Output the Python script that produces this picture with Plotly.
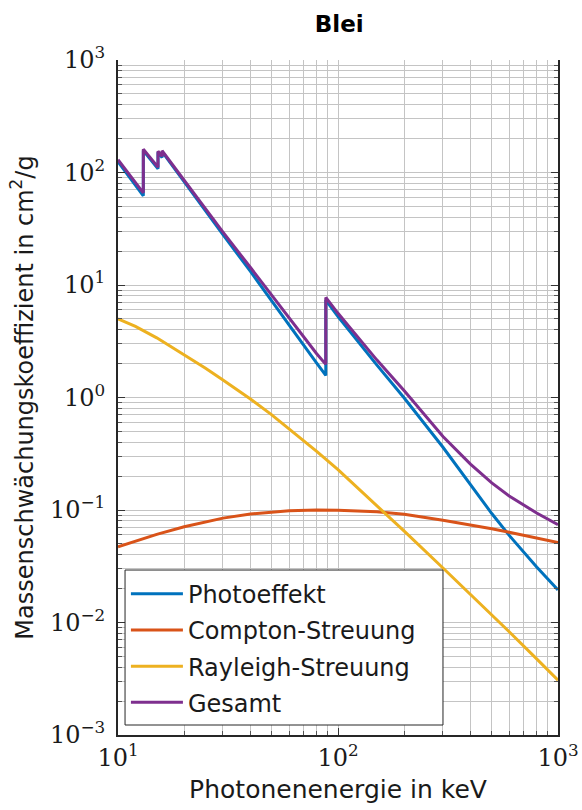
import plotly.graph_objects as go

# Energies in keV (edges duplicated for the absorption jumps)
E_photo = [10, 13.035, 13.035, 15.2, 15.2, 15.861, 15.861, 20, 30, 40, 50, 60, 80,
           88.0045, 88.0045, 100, 150, 200, 300, 400, 500, 600, 800, 1000]
mu_photo = [124.9, 62, 157, 108, 151, 136, 153, 82, 28, 13.2, 7.3, 4.4, 2.02,
            1.57, 7.35, 5.25, 1.95, 0.99, 0.361, 0.166, 0.093, 0.0595, 0.0311, 0.0195]
mu_total = [130, 66, 161, 111.5, 154.5, 139, 156, 84.5, 29.5, 14.3, 8.1, 5.05, 2.45,
            1.97, 7.75, 5.6, 2.16, 1.15, 0.45, 0.256, 0.174, 0.133, 0.094, 0.074]

E_scatter = [10, 12, 15, 20, 25, 30, 40, 50, 60, 80, 100, 150, 200, 300, 400, 500, 600, 800, 1000]
mu_compton = [0.047, 0.053, 0.0607, 0.071, 0.0788, 0.0847, 0.0921, 0.0963, 0.0985, 0.0999,
              0.0996, 0.0964, 0.0916, 0.0811, 0.0738, 0.0681, 0.0635, 0.0566, 0.0515]
mu_rayleigh = [5.0, 4.28, 3.39, 2.40, 1.82, 1.43, 0.968, 0.701, 0.528, 0.332, 0.228, 0.110,
               0.0648, 0.0305, 0.0178, 0.0117, 0.00827, 0.00475, 0.00307]

names = ["Photoeffekt", "Compton-Streuung", "Rayleigh-Streuung", "Gesamt"]
colors = ["#0072BD", "#D95319", "#EDB120", "#7E2F8E"]

y_tickvals = [1e-3, 1e-2, 1e-1, 1e0, 1e1, 1e2, 1e3]
y_ticktext = ["10<sup>−3</sup>", "10<sup>−2</sup>", "10<sup>−1</sup>", "10<sup>0</sup>",
              "10<sup>1</sup>", "10<sup>2</sup>", "10<sup>3</sup>"]
x_tickvals = [10, 100, 1000]
x_ticktext = ["10<sup>1</sup>", "10<sup>2</sup>", "10<sup>3</sup>"]

fig = go.Figure()
series = [(E_photo, mu_photo), (E_scatter, mu_compton), (E_scatter, mu_rayleigh), (E_photo, mu_total)]
for (xs, ys), n, c in zip(series, names, colors):
    fig.add_trace(go.Scatter(x=xs, y=ys, mode="lines", name=n, legendgroup=n,
                             line=dict(color=c, width=3)))

grid = "#c4c4c4"
tickfont = dict(family="DejaVu Serif", size=24, color="#1a1a1a")
fig.update_xaxes(type="log", range=[1, 3], tickvals=x_tickvals, ticktext=x_ticktext,
                 tickfont=tickfont, showgrid=True, gridcolor=grid, gridwidth=1,
                 ticks="inside", ticklen=7, tickcolor="#333", showline=True,
                 linecolor="#262626", linewidth=2, mirror=False, zeroline=False,
                 automargin=False,
                 minor=dict(dtick="D1", showgrid=True, gridcolor=grid, gridwidth=1,
                            ticks="inside", ticklen=4, tickcolor="#555"),
                 title=dict(text="Photonenenergie in keV",
                            font=dict(family="DejaVu Sans", size=25, color="#1a1a1a"),
                            standoff=10))
fig.update_yaxes(type="log", range=[-3, 3], tickvals=y_tickvals, ticktext=y_ticktext,
                 tickfont=tickfont, showgrid=True, gridcolor=grid, gridwidth=1,
                 ticks="inside", ticklen=7, tickcolor="#333", showline=True,
                 linecolor="#262626", linewidth=2, mirror="ticks", zeroline=False,
                 ticklabelstandoff=6, automargin=False,
                 minor=dict(dtick="D1", showgrid=True, gridcolor=grid, gridwidth=1,
                            ticks="inside", ticklen=4, tickcolor="#555"),
                 title=dict(text="Massenschwächungskoeffizient in cm<sup>2</sup>/g",
                            font=dict(family="DejaVu Sans", size=24, color="#1a1a1a"),
                            standoff=10))

# legend frame drawn as a layout box (plotly cannot pad the legend on the right)
fig.add_shape(type="rect", xref="paper", yref="paper",
              x0=0.016, x1=0.7386, y0=0.0148, y1=0.2444,
              fillcolor="white", line=dict(color="#262626", width=1), layer="above")

fig.update_layout(
    width=582, height=810,
    margin=dict(l=118, r=24, t=60, b=75),
    paper_bgcolor="white", plot_bgcolor="white",
    title=dict(text="<b>Blei</b>", x=0.583, xanchor="center", y=0.97, yanchor="middle",
               font=dict(family="DejaVu Sans", size=23, color="black")),
    legend=dict(x=0.018, y=0.242, xanchor="left", yanchor="top",
                bgcolor="rgba(0,0,0,0)", borderwidth=0,
                font=dict(family="DejaVu Sans", size=24, color="#1a1a1a"),
                tracegroupgap=2, itemwidth=52),
    showlegend=True,
)

fig.write_html("out.html")
